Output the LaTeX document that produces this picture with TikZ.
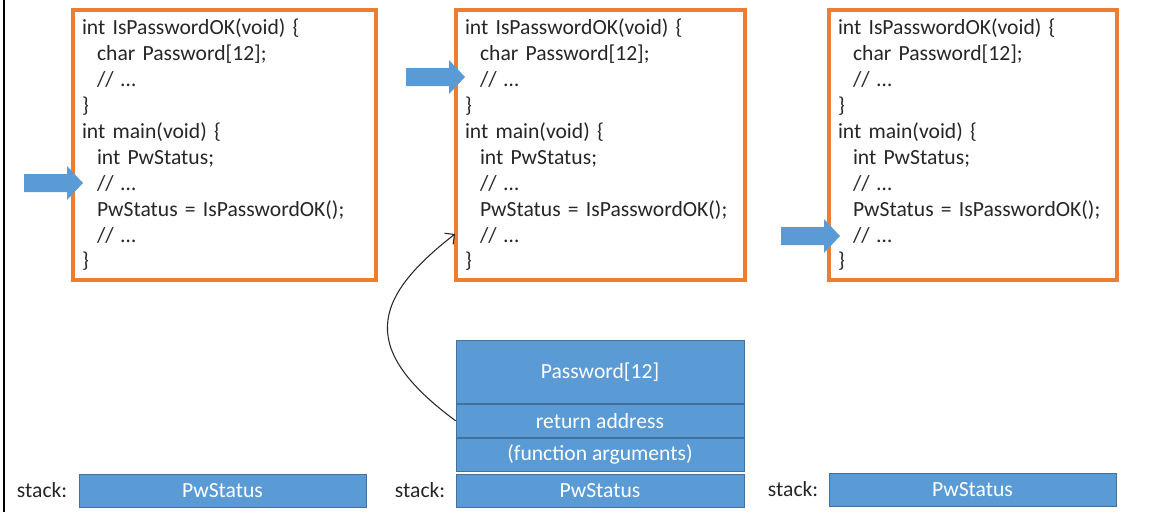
\documentclass[tikz,border=0pt]{standalone}
\usepackage{fontspec}
\setmainfont{Carlito}
\usepackage{tikz}
\usetikzlibrary{positioning, arrows.meta}
\definecolor{codeorange}{RGB}{237,125,49}
\definecolor{stackblue}{RGB}{91,155,213}
\definecolor{stackline}{RGB}{65,113,156}
\definecolor{codetext}{RGB}{38,38,38}

\newcommand{\ind}{\hspace*{0.3cm}}
\newcommand{\codetext}{int IsPasswordOK(void) \{\\
\ind char Password[12];\\
\ind // …\\
\}\\
int main(void) \{\\
\ind int PwStatus;\\
\ind // …\\
\ind PwStatus = IsPasswordOK();\\
\ind // …\\
\}}
% fleche bleue, pointe en (#1,#2)
\newcommand{\ptr}[2]{\fill[stackblue] (#1-59,#2-9) -- (#1-16,#2-9) -- (#1-16,#2-17) -- (#1,#2) -- (#1-16,#2+17) -- (#1-16,#2+9) -- (#1-59,#2+9) -- cycle;}

\tikzset{
  codebox/.style={draw=codeorange, line width=2pt, inner xsep=0.18cm, inner ysep=0pt, align=left,
    minimum height=5.4cm, text=codetext, font=\fontsize{12.3pt}{14.74pt}\selectfont},
  stackbox/.style={draw=stackline, line width=0.5pt, fill=stackblue, text=white, inner sep=0pt,
    minimum width=5.74cm, minimum height=0.66cm, font=\fontsize{12.3pt}{14pt}\selectfont},
  stacklabel/.style={inner sep=0pt, text=codetext, font=\fontsize{12.3pt}{14pt}\selectfont}
}

\begin{document}
\begin{tikzpicture}[x=0.02cm, y=-0.02cm]
		\useasboundingbox (0,0) rectangle (1155,512);
		\draw[line width=1.4pt] (4,0) -- (4,512);
		
		%etape 1
		\node[codebox, text width=5.7cm] (c1) at (224.5,145) {\codetext};
		\node[stackbox] (s1) at (222.5,490.5) {PwStatus};
		\node[stacklabel, left = 0.22cm of s1] (l1) {stack:};
		\ptr{83}{183}
		
		%etape 2
		\node[codebox, text width=5.42cm] (c2) at (600.5,145) {\codetext};
		\node[stackbox, minimum width=5.76cm] (s2) at (600,490.5) {PwStatus};
		\node[stackbox, minimum width=5.76cm, minimum height=0.66cm, above = 0.04cm of s2] (args) {(function arguments)};
		\node[stackbox, minimum width=5.76cm, minimum height=0.66cm, above = 0cm of args] (ret) {return address};
		\node[stackbox, minimum width=5.76cm, minimum height=1.26cm, above = 0cm of ret] (pw) {Password[12]};
		\node[stacklabel, left = 0.2cm of s2] (l2) {stack:};
		\ptr{465}{77}
		
		\coordinate (back) at (455,234);
		\draw[-{Straight Barb[length=4pt]}, codetext, line width=0.6pt] (ret.west) .. controls (360,350) and (370,300) .. (back);
		
		%etape 3
		\node[codebox, text width=5.4cm] (c3) at (973,145) {\codetext};
		\node[stackbox] (s3) at (972.5,489.5) {PwStatus};
		\node[stacklabel, left = 0.2cm of s3] (l3) {stack:};
		\ptr{840}{236}
		
	\end{tikzpicture}
\end{document}
